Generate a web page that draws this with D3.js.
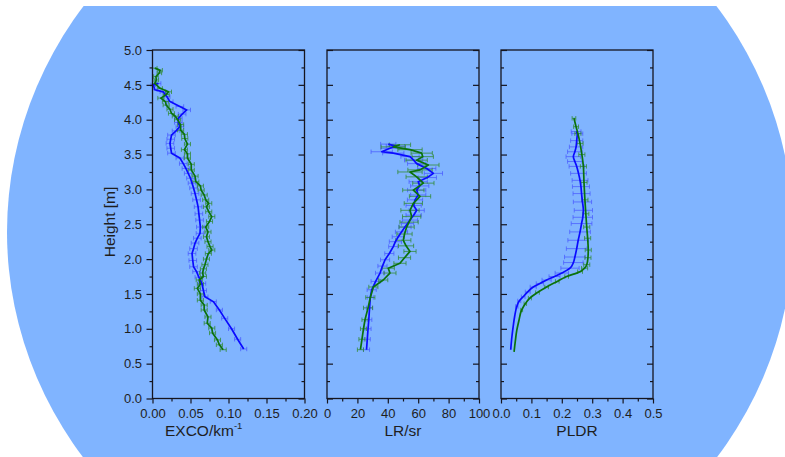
<!DOCTYPE html>
<html>
<head>
<meta charset="utf-8">
<script src="https://cdn.jsdelivr.net/npm/d3@7"></script>
<style>
  html, body { margin: 0; padding: 0; background: #ffffff; }
  svg { display: block; }
  text { font-family: "Liberation Sans", Arial, sans-serif; fill: #1e1e1e; }
</style>
</head>
<body>
<svg id="chart" width="785" height="457"></svg>
<script>
// ---- Extinction coefficient (EXCO, km^-1) ----
const excoBlueH = [0.71,0.85,1.00,1.15,1.27,1.39,1.46,1.55,1.65,1.74,1.82,1.89,1.98,2.08,2.15,2.23,2.30,2.37,2.46,2.56,2.65,2.75,2.85,2.94,3.02,3.09,3.16,3.23,3.30,3.37,3.45,3.52,3.59,3.66,3.72,3.78,3.84,3.90,3.96,4.02,4.08,4.14,4.19,4.26,4.33,4.40,4.43,4.50,4.52];
const excoBlue  = [0.120,0.112,0.104,0.095,0.088,0.080,0.069,0.067,0.065,0.061,0.058,0.054,0.053,0.052,0.054,0.056,0.059,0.0625,0.063,0.062,0.061,0.060,0.058,0.056,0.054,0.052,0.050,0.047,0.044,0.0405,0.036,0.025,0.024,0.023,0.024,0.025,0.031,0.036,0.034,0.034,0.039,0.045,0.036,0.023,0.019,0.014,0.003,0.001,0.008];
const excoBlueErr = [0.004,0.004,0.004,0.004,0.004,0.004,0.004,0.004,0.005,0.005,0.005,0.005,0.005,0.005,0.005,0.005,0.005,0.005,0.005,0.005,0.005,0.005,0.005,0.005,0.005,0.005,0.005,0.005,0.005,0.005,0.005,0.005,0.005,0.005,0.005,0.005,0.005,0.005,0.005,0.005,0.005,0.005,0.005,0.004,0.004,0.004,0.003,0.003,0.003];

const excoGreenH = [0.70,0.77,0.84,0.94,1.01,1.08,1.17,1.27,1.34,1.41,1.50,1.58,1.64,1.70,1.75,1.80,1.86,1.92,2.00,2.08,2.13,2.18,2.25,2.32,2.39,2.46,2.54,2.61,2.68,2.75,2.80,2.85,2.92,2.99,3.05,3.11,3.19,3.28,3.36,3.45,3.51,3.57,3.65,3.73,3.79,3.85,3.93,4.00,4.05,4.09,4.15,4.21,4.26,4.31,4.36,4.40,4.45,4.52,4.57,4.62,4.67,4.71,4.74];
const excoGreen  = [0.093,0.088,0.0855,0.079,0.078,0.072,0.073,0.068,0.068,0.063,0.063,0.059,0.063,0.0615,0.067,0.066,0.067,0.069,0.071,0.0735,0.078,0.0757,0.073,0.071,0.073,0.070,0.075,0.078,0.074,0.071,0.074,0.070,0.068,0.0640,0.063,0.057,0.056,0.0510,0.051,0.046,0.046,0.0420,0.046,0.0425,0.042,0.037,0.037,0.033,0.030,0.025,0.023,0.0180,0.017,0.011,0.018,0.021,0.010,0.003,0.005,0.0045,0.009,0.010,0.003];
const excoGreenErr = [0.004,0.004,0.004,0.004,0.004,0.004,0.004,0.004,0.004,0.004,0.004,0.004,0.004,0.004,0.004,0.004,0.004,0.004,0.004,0.004,0.004,0.004,0.004,0.004,0.004,0.004,0.004,0.004,0.004,0.004,0.004,0.004,0.004,0.004,0.004,0.004,0.004,0.004,0.004,0.004,0.004,0.004,0.004,0.004,0.004,0.004,0.004,0.004,0.004,0.004,0.004,0.004,0.004,0.004,0.004,0.004,0.003,0.003,0.003,0.003,0.003,0.003,0.003];

// ---- Lidar ratio (LR, sr) ----
const lrBlueH = [0.70,0.85,1.00,1.13,1.30,1.45,1.56,1.68,1.80,1.90,1.99,2.08,2.18,2.25,2.32,2.39,2.46,2.51,2.56,2.63,2.70,2.77,2.85,2.92,2.99,3.05,3.11,3.17,3.23,3.30,3.37,3.42,3.47,3.52,3.54,3.59,3.62,3.65];
const lrBlue  = [26,26.5,27,27.5,28,28.5,29.4,32,34.9,36.5,38.2,41,43.6,45,46.9,49,51.3,53,54.6,57,59,57,57.9,60,59,61,60,66,70,65.6,59,57,54.6,43.6,36,41.4,45,40.3];
const lrBlueErr = [2,2,2,2,2,2,3,3,3,3,3,3,3,4,4,4,4,4,5,5,5,5,5,5,6,6,6,6,6,6,6,6,6,7,7,6,6,5];

const lrGreenH = [0.70,0.85,1.00,1.13,1.30,1.45,1.60,1.70,1.80,1.87,1.94,2.02,2.11,2.19,2.27,2.36,2.46,2.53,2.61,2.70,2.80,2.90,2.99,3.09,3.18,3.25,3.28,3.35,3.42,3.47,3.52,3.57,3.61,3.64];
const lrGreen  = [22,23,24,25,27,28.5,30.5,37,41.4,40.3,48,51,54.6,52,50.2,51,52.4,54,55.7,54.6,56.8,61.2,56.8,63.4,59,54.6,61.2,66.7,59,63,62.3,54.6,43.6,48];
const lrGreenErr = [2,2,2,2,3,3,3,3,4,4,4,4,4,5,5,5,5,6,6,6,6,7,7,7,7,8,8,7,7,7,7,8,8,7];

// ---- Particle linear depolarization ratio (PLDR) ----
const pldrBlueH = [0.70,0.85,1.03,1.18,1.32,1.40,1.46,1.53,1.60,1.65,1.70,1.75,1.80,1.87,1.95,2.03,2.15,2.27,2.39,2.51,2.60,2.70,2.82,2.94,3.04,3.13,3.23,3.33,3.40,3.47,3.54,3.61,3.70,3.80,3.83];
const pldrBlue  = [0.032,0.035,0.040,0.045,0.052,0.060,0.073,0.088,0.106,0.128,0.150,0.176,0.200,0.227,0.238,0.243,0.249,0.254,0.260,0.265,0.269,0.271,0.268,0.265,0.263,0.260,0.255,0.249,0.243,0.238,0.243,0.247,0.249,0.251,0.247];
const pldrBlueErr = [0,0,0,0,0.004,0.005,0.006,0.008,0.010,0.012,0.015,0.018,0.022,0.030,0.032,0.034,0.034,0.034,0.034,0.034,0.032,0.030,0.030,0.028,0.028,0.026,0.026,0.025,0.024,0.024,0.024,0.022,0.020,0.018,0.016];

const pldrGreenH = [0.67,0.82,0.98,1.12,1.27,1.36,1.44,1.52,1.60,1.68,1.75,1.82,1.87,1.92,2.02,2.13,2.30,2.46,2.65,2.85,3.10,3.33,3.50,3.66,3.80,3.90,4.02];
const pldrGreen  = [0.043,0.047,0.052,0.059,0.068,0.080,0.095,0.120,0.150,0.185,0.216,0.260,0.275,0.282,0.286,0.287,0.285,0.282,0.279,0.276,0.273,0.271,0.266,0.260,0.253,0.247,0.240];
const pldrGreenErr = [0,0,0,0,0.003,0.004,0.005,0.006,0.006,0.006,0.006,0.008,0.010,0.010,0.010,0.010,0.010,0.010,0.010,0.010,0.010,0.010,0.010,0.010,0.010,0.008,0.006];

// ---- Axis ticks and titles ----
const heightMajor = [0,0.5,1,1.5,2,2.5,3,3.5,4,4.5,5];
const heightMinor = [0.25,0.75,1.25,1.75,2.25,2.75,3.25,3.75,4.25,4.75];
const excoMajor = [0,0.05,0.10,0.15,0.20];
const excoMinor = [0.025,0.075,0.125,0.175];
const lrMajor = [0,20,40,60,80,100];
const lrMinor = [10,30,50,70,90];
const pldrMajor = [0,0.1,0.2,0.3,0.4,0.5];
const pldrMinor = [0.05,0.15,0.25,0.35,0.45];
const yTitle = "Height [m]";

const svg = d3.select("#chart");
const W = 785, H = 457;

// Backdrop: large ellipse, flattened along the top edge
const defs = svg.append("defs");
defs.append("clipPath").attr("id", "topcut")
  .append("rect").attr("x", 0).attr("y", 6).attr("width", W).attr("height", H);
svg.append("ellipse")
  .attr("cx", 400).attr("cy", 232).attr("rx", 393).attr("ry", 381)
  .attr("fill", "#80b4ff")
  .attr("clip-path", "url(#topcut)");

const BLUE = "#0a0aff", GREEN = "#0b720b";
const BLUE_ERR = "#4a5cff", GREEN_ERR = "#2f8a2f";

const yTop = 50, yBot = 398.5;
const y = d3.scaleLinear().domain([0, 5]).range([yBot, yTop]);

const panels = [
  { x0: 152.5, x1: 304.5, domain: [0, 0.2], major: excoMajor, minor: excoMinor, fmt: d3.format(".2f"),
    title: ["EXCO/km", "-1"], titleX: 165, titleAnchor: "start", first: true, smooth: false,
    series: [
      { h: excoBlueH, v: excoBlue, e: excoBlueErr, c: BLUE, ec: BLUE_ERR },
      { h: excoGreenH, v: excoGreen, e: excoGreenErr, c: GREEN, ec: GREEN_ERR }
    ] },
  { x0: 327, x1: 479, domain: [0, 100], major: lrMajor, minor: lrMinor, fmt: d3.format("d"),
    title: ["LR/sr"], titleX: 403, titleAnchor: "middle", first: false, smooth: false,
    series: [
      { h: lrBlueH, v: lrBlue, e: lrBlueErr, c: BLUE, ec: BLUE_ERR },
      { h: lrGreenH, v: lrGreen, e: lrGreenErr, c: GREEN, ec: GREEN_ERR }
    ] },
  { x0: 501, x1: 653, domain: [0, 0.5], major: pldrMajor, minor: pldrMinor, fmt: d3.format(".1f"),
    title: ["PLDR"], titleX: 577, titleAnchor: "middle", first: false, smooth: true,
    series: [
      { h: pldrBlueH, v: pldrBlue, e: pldrBlueErr, c: BLUE, ec: BLUE_ERR },
      { h: pldrGreenH, v: pldrGreen, e: pldrGreenErr, c: GREEN, ec: GREEN_ERR }
    ] }
];

const AX = "#15151f";

function styleAxis(g) {
  g.select(".domain").remove();
  g.selectAll(".tick line").attr("stroke", AX).attr("stroke-width", 1.2);
  g.selectAll(".tick text").attr("font-size", 13).attr("fill", "#1e1e1e")
    .attr("font-family", "Liberation Sans, Arial, sans-serif");
}

panels.forEach(p => {
  const x = d3.scaleLinear().domain(p.domain).range([p.x0, p.x1]);
  const g = svg.append("g");

  // error bars
  const eg = g.append("g");
  p.series.forEach(s => {
    s.h.forEach((h, i) => {
      const v = s.v[i], e = s.e[i];
      if (!e) return;
      const yy = y(h), xa = x(v - e), xb = x(v + e);
      eg.append("line").attr("x1", xa).attr("x2", xb).attr("y1", yy).attr("y2", yy)
        .attr("stroke", s.ec).attr("stroke-width", 1).attr("opacity", 0.75);
      [xa, xb].forEach(xc => {
        eg.append("line").attr("x1", xc).attr("x2", xc).attr("y1", yy - 2.2).attr("y2", yy + 2.2)
          .attr("stroke", s.ec).attr("stroke-width", 1).attr("opacity", 0.75);
      });
    });
  });

  // profiles
  p.series.forEach(s => {
    const pts = s.h.map((h, i) => [s.v[i], h]);
    const line = d3.line().x(d => x(d[0])).y(d => y(d[1]))
      .curve(p.smooth ? d3.curveMonotoneY : d3.curveLinear);
    g.append("path").datum(pts).attr("d", line)
      .attr("fill", "none").attr("stroke", s.c).attr("stroke-width", 1.7)
      .attr("stroke-linejoin", "round");
  });

  // frame
  g.append("rect").attr("x", p.x0).attr("y", yTop)
    .attr("width", p.x1 - p.x0).attr("height", yBot - yTop)
    .attr("fill", "none").attr("stroke", AX).attr("stroke-width", 1.3);

  // bottom axis: labelled majors, outward ticks
  g.append("g").attr("transform", `translate(0,${yBot})`)
    .call(d3.axisBottom(x).tickValues(p.major).tickSize(5).tickPadding(5).tickFormat(p.fmt))
    .call(styleAxis);
  g.append("g").attr("transform", `translate(0,${yBot})`)
    .call(d3.axisBottom(x).tickValues(p.minor).tickSize(3).tickFormat(""))
    .call(styleAxis);

  // left axis
  if (p.first) {
    g.append("g").attr("transform", `translate(${p.x0},0)`)
      .call(d3.axisLeft(y).tickValues(heightMajor).tickSize(6).tickPadding(4.5).tickFormat(d3.format(".1f")))
      .call(styleAxis);
    g.append("g").attr("transform", `translate(${p.x0},0)`)
      .call(d3.axisLeft(y).tickValues(heightMinor).tickSize(3).tickFormat(""))
      .call(styleAxis);
  } else {
    g.append("g").attr("transform", `translate(${p.x0},0)`)
      .call(d3.axisLeft(y).tickValues(heightMajor).tickSize(-6).tickFormat(""))
      .call(styleAxis);
    g.append("g").attr("transform", `translate(${p.x0},0)`)
      .call(d3.axisLeft(y).tickValues(heightMinor).tickSize(-3).tickFormat(""))
      .call(styleAxis);
  }

  // right axis, inward ticks
  g.append("g").attr("transform", `translate(${p.x1},0)`)
    .call(d3.axisRight(y).tickValues(heightMajor).tickSize(-6).tickFormat(""))
    .call(styleAxis);
  g.append("g").attr("transform", `translate(${p.x1},0)`)
    .call(d3.axisRight(y).tickValues(heightMinor).tickSize(-3).tickFormat(""))
    .call(styleAxis);

  // axis title
  const t = svg.append("text").attr("x", p.titleX).attr("y", 435.5)
    .attr("text-anchor", p.titleAnchor).attr("font-size", 15.5);
  t.append("tspan").text(p.title[0]);
  if (p.title[1]) {
    t.append("tspan").attr("font-size", 9.5).attr("dy", -6.5).text(p.title[1]);
  }
});

svg.append("text")
  .attr("transform", "translate(115,222) rotate(-90)")
  .attr("text-anchor", "middle").attr("font-size", 15.5)
  .text(yTitle);
</script>
</body>
</html>
